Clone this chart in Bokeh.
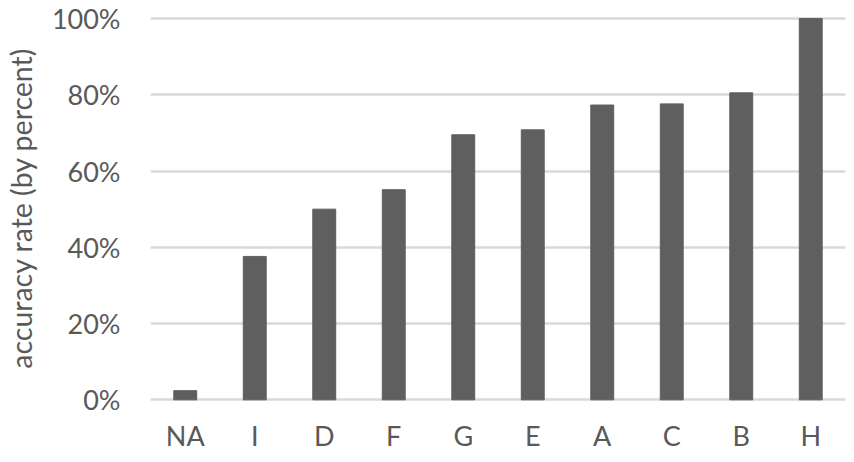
from bokeh.plotting import figure
from bokeh.models import Range1d, FactorRange, FixedTicker
from bokeh.embed import file_html
from bokeh.resources import INLINE

categories = ["NA", "I", "D", "F", "G", "E", "A", "C", "B", "H"]
accuracy = [2.4, 37.6, 50.0, 55.1, 69.5, 70.8, 77.3, 77.6, 80.5, 100.0]
y_ticks = [0, 20, 40, 60, 80, 100]
y_tick_labels = ["0%", "20%", "40%", "60%", "80%", "100%"]

TEXT = "#595959"
FONT = "Lato"

p = figure(width=846, height=454, output_backend="svg", toolbar_location=None,
           x_range=FactorRange(*categories, range_padding=0),
           y_range=Range1d(-0.7, 101.3),
           min_border_left=145, min_border_right=1, min_border_top=13, min_border_bottom=0)
p.outline_line_color = None
p.background_fill_color = "white"
p.border_fill_color = "white"

p.vbar(x=categories, top=accuracy, bottom=0, width=0.33, color="#5f5f5f")

p.xgrid.grid_line_color = None
p.ygrid.grid_line_color = "#d9d9d9"
p.ygrid.grid_line_width = 2.5
p.ygrid.ticker = FixedTicker(ticks=y_ticks)

p.yaxis.ticker = FixedTicker(ticks=y_ticks)
p.yaxis.major_label_overrides = dict(zip(y_ticks, y_tick_labels))
p.yaxis.axis_label = "accuracy rate (by percent)"

for ax in (p.xaxis[0], p.yaxis[0]):
    ax.axis_line_color = None
    ax.major_tick_line_color = None
    ax.minor_tick_line_color = None
    ax.major_tick_out = 0
    ax.major_tick_in = 0
    ax.major_label_text_font = FONT
    ax.major_label_text_font_size = "27px"
    ax.major_label_text_color = TEXT

p.yaxis.major_label_standoff = 30
p.yaxis.axis_label_text_font = FONT
p.yaxis.axis_label_text_font_size = "28.5px"
p.yaxis.axis_label_text_font_style = "normal"
p.yaxis.axis_label_text_color = TEXT
p.yaxis.axis_label_standoff = 11
p.xaxis.major_label_standoff = 16

open("out.html", "w").write(file_html(p, INLINE))
